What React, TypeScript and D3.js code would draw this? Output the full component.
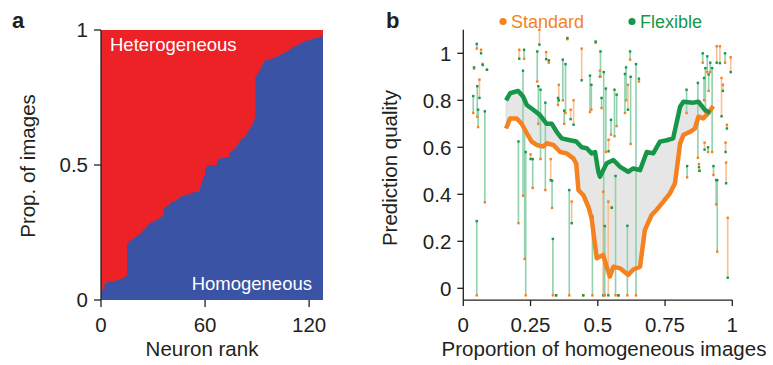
import React from "react";
import * as d3 from "d3";

// Panel a: proportion of homogeneous images per neuron, sorted by rank
const homProp = [
  0.04, 0.04, 0.06, 0.065, 0.067, 0.068, 0.07, 0.07, 0.072, 0.073, 0.075, 0.077, 0.08, 0.085,
  0.09, 0.21, 0.22, 0.22, 0.225, 0.23, 0.235, 0.24, 0.245, 0.25, 0.26, 0.265, 0.27, 0.28,
  0.285, 0.29, 0.29, 0.295, 0.3, 0.3, 0.305, 0.31, 0.34, 0.345, 0.35, 0.355, 0.36, 0.365,
  0.365, 0.37, 0.375, 0.38, 0.385, 0.385, 0.39, 0.39, 0.39, 0.395, 0.395, 0.4, 0.4, 0.4,
  0.4, 0.42, 0.44, 0.46, 0.49, 0.5, 0.5, 0.5, 0.5, 0.5, 0.5, 0.52, 0.525, 0.525, 0.525,
  0.53, 0.53, 0.53, 0.55, 0.55, 0.56, 0.56, 0.57, 0.58, 0.59, 0.6, 0.6, 0.61, 0.62, 0.63,
  0.64, 0.65, 0.67, 0.83, 0.84, 0.85, 0.86, 0.875, 0.885, 0.89, 0.89, 0.89, 0.895, 0.895,
  0.9, 0.9, 0.905, 0.91, 0.91, 0.915, 0.92, 0.92, 0.925, 0.93, 0.935, 0.94, 0.94, 0.945,
  0.95, 0.95, 0.955, 0.96, 0.96, 0.962, 0.965, 0.965, 0.968, 0.97, 0.97, 0.972, 0.975, 0.98,
];
const rankTicks = [0, 60, 120];
const propTicks = [0, 0.5, 1];

// Panel b: running averages
const flexCurveX = [0.159, 0.174, 0.204, 0.223, 0.236, 0.26, 0.285, 0.31, 0.329, 0.347, 0.366, 0.397, 0.42, 0.44, 0.459, 0.477, 0.49, 0.502, 0.508, 0.533, 0.558, 0.583, 0.613, 0.632, 0.657, 0.682, 0.706, 0.731, 0.756, 0.78, 0.806, 0.818, 0.855, 0.874, 0.898, 0.917];
const flexCurveY = [0.8, 0.83, 0.84, 0.815, 0.78, 0.76, 0.737, 0.7, 0.7, 0.666, 0.638, 0.63, 0.625, 0.6, 0.596, 0.574, 0.58, 0.496, 0.475, 0.532, 0.546, 0.517, 0.496, 0.51, 0.503, 0.58, 0.574, 0.624, 0.63, 0.638, 0.773, 0.794, 0.79, 0.794, 0.759, 0.745];
const stdCurveX = [0.159, 0.174, 0.198, 0.217, 0.236, 0.254, 0.273, 0.297, 0.31, 0.335, 0.36, 0.384, 0.409, 0.42, 0.428, 0.446, 0.465, 0.477, 0.496, 0.52, 0.533, 0.545, 0.558, 0.583, 0.613, 0.632, 0.657, 0.675, 0.7, 0.718, 0.743, 0.768, 0.787, 0.806, 0.818, 0.843, 0.861, 0.874, 0.892, 0.911, 0.929];
const stdCurveY = [0.68, 0.723, 0.723, 0.7, 0.66, 0.624, 0.61, 0.603, 0.617, 0.61, 0.58, 0.574, 0.553, 0.53, 0.418, 0.397, 0.347, 0.298, 0.128, 0.142, 0.092, 0.05, 0.092, 0.085, 0.057, 0.08, 0.092, 0.248, 0.312, 0.333, 0.368, 0.404, 0.447, 0.617, 0.652, 0.666, 0.68, 0.73, 0.723, 0.745, 0.776];

// Panel b: individual neurons (x = proportion homogeneous, standard vs flexible quality)
const neuronX = [0.037, 0.04, 0.05, 0.05, 0.052, 0.055, 0.06, 0.066, 0.072, 0.08, 0.088, 0.205, 0.208, 0.222, 0.226, 0.228, 0.232, 0.25, 0.258, 0.275, 0.279, 0.283, 0.287, 0.305, 0.308, 0.318, 0.325, 0.33, 0.333, 0.345, 0.352, 0.355, 0.37, 0.375, 0.38, 0.387, 0.394, 0.399, 0.403, 0.41, 0.44, 0.446, 0.471, 0.476, 0.48, 0.492, 0.508, 0.51, 0.514, 0.52, 0.522, 0.526, 0.53, 0.539, 0.54, 0.549, 0.552, 0.562, 0.566, 0.57, 0.577, 0.601, 0.605, 0.61, 0.612, 0.62, 0.622, 0.642, 0.653, 0.83, 0.832, 0.872, 0.876, 0.878, 0.89, 0.895, 0.897, 0.9, 0.907, 0.91, 0.912, 0.918, 0.925, 0.93, 0.94, 0.942, 0.944, 0.954, 0.96, 0.965, 0.973, 0.975, 0.977, 0.98, 0.983, 0.994];
const neuronStd = [0.746, 0.935, 1.02, -0.03, 0.73, 0.686, 0.888, 1.015, 0.955, 0.366, 0.93, 0.277, 1.015, 0.394, 0.977, 0.125, -0.03, 0.57, 0.427, 0.88, 0.7, 1.1, 0.55, 0.418, 1.005, 0.96, 0.55, 0.342, -0.03, -0.03, 0.78, 0.866, 0.8, 0.7, 0.746, 1.06, -0.03, 0.76, 0.369, 0.8, 1.02, -0.03, 0.75, 0.76, -0.03, 1.045, 0.926, 0.9, 0.767, 0.411, -0.03, -0.03, 0.58, 0.369, 0.632, 0.654, 0.343, 0.647, -0.03, 0.69, -0.03, 0.746, 0.8, -0.03, 0.866, 0.973, 0.614, -0.03, 0.88, 0.746, 0.472, 0.555, 0.529, 0.5, 0.96, 0.8, 0.62, 0.75, 0.92, 0.58, 0.84, 0.92, 0.58, 0.482, 0.357, 1.03, 0.156, 1.03, 0.895, 0.866, 0.96, 0.62, 0.535, 0.696, 0.3, 0.983];
const neuronFlex = [0.818, 0.94, 1.04, 0.286, 0.86, 0.76, 0.81, 1.0, 0.95, 0.753, 0.93, 0.625, 0.977, 0.926, 1.015, 0.68, 0.58, 0.55, 0.55, 1.008, 0.86, 1.037, 0.845, 0.79, 0.975, 0.97, 0.46, 0.458, 0.21, -0.03, 0.81, 0.8, 0.973, 0.756, 0.954, 1.065, 0.418, 0.72, 0.277, 0.696, 0.885, -0.03, 0.905, 0.866, 0.305, 1.05, 0.9, 1.008, 0.81, -0.03, 0.92, 0.265, 0.85, -0.03, 0.583, 0.717, 0.343, 0.845, 0.478, 0.824, -0.03, 0.912, 0.94, 0.266, 0.76, 1.008, 0.9, 0.954, 0.892, 0.845, 0.52, 0.874, 0.515, 0.5, 1.0, 0.895, 0.59, 0.937, 0.987, 0.6, 0.91, 0.96, 0.937, 0.52, 0.461, 0.96, 0.46, 0.958, 0.732, 0.84, 1.0, 0.58, 0.447, 0.68, 0.045, 0.92];
const qualityTicks = [0, 0.2, 0.4, 0.6, 0.8, 1];
const qualityLabels = ["0", "0.2", "0.4", "0.6", "0.8", "1"];
const homTicks = [0, 0.25, 0.5, 0.75, 1];
const homLabels = ["0", "0.25", "0.5", "0.75", "1"];

const FONT = "'Liberation Sans', Arial, sans-serif";
const INK = "#231f20";
const RED = "#ec2227";
const BLUE = "#3a53a4";
const ORANGE = "#f58220";
const GREEN = "#17964a";
const ORANGE_LIGHT = "#f9c094";
const GREEN_LIGHT = "#8fd2ab";

function PanelA() {
  const x = d3.scaleLinear().domain([0, 128]).range([101, 323]);
  const y = d3.scaleLinear().domain([0, 1]).range([300, 30]);
  const steps = homProp.map((v, i) => [i, v] as [number, number]);
  steps.push([homProp.length, homProp[homProp.length - 1]]);
  const area = d3
    .area<[number, number]>()
    .x((d) => x(d[0]))
    .y0(y(0))
    .y1((d) => y(d[1]))
    .curve(d3.curveStepAfter);

  return (
    <g>
      <rect x={x(0)} y={y(1)} width={x(128) - x(0)} height={y(0) - y(1)} fill={RED} />
      <path d={area(steps) || ""} fill={BLUE} />
      <text x={110} y={51} fill="#fff" fontSize={18.5} fontFamily={FONT}>Heterogeneous</text>
      <text x={312} y={290} fill="#fff" fontSize={18.5} fontFamily={FONT} textAnchor="end">Homogeneous</text>

      <line x1={x(0)} x2={x(0)} y1={y(1)} y2={y(0)} stroke={INK} strokeWidth={1.3} />
      {propTicks.map((t) => (
        <g key={t}>
          <line x1={x(0) - 7} x2={x(0)} y1={y(t)} y2={y(t)} stroke={INK} strokeWidth={1.3} />
          <text x={x(0) - 13} y={y(t)} dy="0.36em" textAnchor="end" fontSize={20.5} fontFamily={FONT} fill={INK}>
            {t}
          </text>
        </g>
      ))}
      {rankTicks.map((t) => (
        <g key={t}>
          <line x1={x(t)} x2={x(t)} y1={y(0)} y2={y(0) + 7} stroke={INK} strokeWidth={1.3} />
          <text x={x(t)} y={331.5} textAnchor="middle" fontSize={20.5} fontFamily={FONT} fill={INK}>
            {t}
          </text>
        </g>
      ))}
      <text x={202} y={356} textAnchor="middle" fontSize={20.5} fontFamily={FONT} fill={INK}>Neuron rank</text>
      <text transform="translate(35,166) rotate(-90)" textAnchor="middle" fontSize={20.5} fontFamily={FONT} fill={INK}>
        Prop. of images
      </text>
      <text x={12} y={28} fontSize={22} fontWeight="bold" fontFamily={FONT} fill={INK}>a</text>
    </g>
  );
}

function PanelB() {
  const x = d3.scaleLinear().domain([0, 1]).range([463.3, 732.3]);
  const y = d3.scaleLinear().domain([0, 1]).range([288.3, 53.3]);

  const flexPts = flexCurveX.map((v, i) => [v, flexCurveY[i]] as [number, number]);
  const stdPts = stdCurveX.map((v, i) => [v, stdCurveY[i]] as [number, number]);
  const line = d3
    .line<[number, number]>()
    .x((d) => x(d[0]))
    .y((d) => y(d[1]));
  const band = line(flexPts.concat(stdPts.slice().reverse())) + "Z";

  return (
    <g>
      <path d={band} fill="#e6e6e6" stroke="#d2d2d2" strokeWidth={0.6} />

      {neuronX.map((v, i) => {
        const s = neuronStd[i];
        const f = neuronFlex[i];
        return (
          <line
            key={"l" + i}
            x1={x(v)}
            x2={x(v)}
            y1={y(s)}
            y2={y(f)}
            stroke={f >= s ? GREEN_LIGHT : ORANGE_LIGHT}
            strokeWidth={1.6}
          />
        );
      })}
      {neuronX.map((v, i) => (
        <g key={"d" + i}>
          <rect x={x(v) - 1.2} y={y(neuronStd[i]) - 1.2} width={2.4} height={2.4} fill={ORANGE} />
          <rect x={x(v) - 1.2} y={y(neuronFlex[i]) - 1.2} width={2.4} height={2.4} fill={GREEN} />
        </g>
      ))}

      <path d={line(stdPts) || ""} fill="none" stroke={ORANGE} strokeWidth={4.5} strokeLinejoin="round" />
      <path d={line(flexPts) || ""} fill="none" stroke={GREEN} strokeWidth={4.5} strokeLinejoin="round" />

      <line x1={x(0)} x2={x(0)} y1={y(1.1)} y2={y(-0.05)} stroke={INK} strokeWidth={1.3} />
      <line x1={x(0)} x2={x(1)} y1={y(-0.05)} y2={y(-0.05)} stroke={INK} strokeWidth={1.3} />
      {qualityTicks.map((t, i) => (
        <g key={t}>
          <line x1={x(0) - 6} x2={x(0)} y1={y(t)} y2={y(t)} stroke={INK} strokeWidth={1.3} />
          <text x={x(0) - 12} y={y(t)} dy="0.36em" textAnchor="end" fontSize={20.5} fontFamily={FONT} fill={INK}>
            {qualityLabels[i]}
          </text>
        </g>
      ))}
      {homTicks.map((t, i) => (
        <g key={t}>
          <line x1={x(t)} x2={x(t)} y1={y(-0.05)} y2={y(-0.05) + 6} stroke={INK} strokeWidth={1.3} />
          <text x={x(t)} y={331.5} textAnchor="middle" fontSize={20.5} fontFamily={FONT} fill={INK}>
            {homLabels[i]}
          </text>
        </g>
      ))}
      <text x={604} y={356} textAnchor="middle" fontSize={20.5} fontFamily={FONT} fill={INK}>
        Proportion of homogeneous images
      </text>
      <text transform="translate(397,168) rotate(-90)" textAnchor="middle" fontSize={20.5} fontFamily={FONT} fill={INK}>
        Prediction quality
      </text>

      <circle cx={503} cy={21.5} r={3.6} fill={ORANGE} />
      <text x={511} y={27.5} fontSize={18} fontFamily={FONT} fill={ORANGE}>Standard</text>
      <circle cx={632} cy={21.5} r={3.6} fill={GREEN} />
      <text x={640} y={27.5} fontSize={18} fontFamily={FONT} fill={GREEN}>Flexible</text>

      <text x={386} y={28} fontSize={22} fontWeight="bold" fontFamily={FONT} fill={INK}>b</text>
    </g>
  );
}

export default function App() {
  return (
    <svg
      width={773}
      height={365}
      style={{ position: "absolute", left: 0, top: 0, background: "#fff" }}
    >
      <PanelA />
      <PanelB />
    </svg>
  );
}
